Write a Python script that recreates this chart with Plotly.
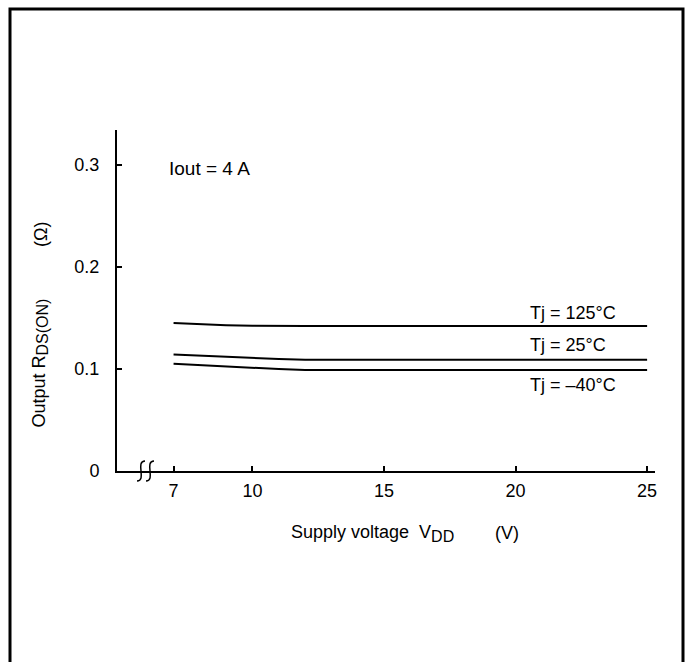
import plotly.graph_objects as go

# Data
vdd = [7, 8, 9, 10, 11, 12, 15, 20, 25]
r_125 = [0.145, 0.1437, 0.1428, 0.1422, 0.142, 0.142, 0.142, 0.142, 0.142]
r_25 = [0.114, 0.1128, 0.1117, 0.1107, 0.1098, 0.109, 0.109, 0.109, 0.109]
r_m40 = [0.105, 0.1036, 0.1022, 0.1009, 0.0998, 0.099, 0.099, 0.099, 0.099]

series = [("Tj = 125°C", r_125), ("Tj = 25°C", r_25), ("Tj = \u201340°C", r_m40)]
label_y = [0.1547, 0.1234, 0.0842]

y_ticks = [0, 0.1, 0.2, 0.3]
y_ticktext = ["0", "0.1", "0.2", "0.3"]
x_ticks = [7, 10, 15, 20, 25]
x_ticktext = ["7", "10", "15", "20", "25"]

FONT = "Liberation Sans, Arial, Helvetica, sans-serif"
FS = 18
SUB = '<sub><span style="font-size:16px">{}</span></sub>'

fig = go.Figure()
for name, vals in series:
    fig.add_trace(go.Scatter(x=vdd, y=vals, mode="lines", name=name,
                             line=dict(color="black", width=2), showlegend=False))

L, R, T, B = 117, 45, 130, 191
W, H = 700, 662
pw, ph = W - L - R, H - T - B

def px2paper_x(px):
    return (px - L) / pw

def px2paper_y(py):
    return (H - B - py) / ph

fig.update_layout(
    width=W, height=H,
    margin=dict(l=L, r=R, t=T, b=B),
    paper_bgcolor="white", plot_bgcolor="white",
    font=dict(family=FONT, size=FS, color="black"),
    xaxis=dict(range=[4.85, 25.3], tickvals=x_ticks, ticktext=x_ticktext,
               showgrid=False, zeroline=False, showline=True, linecolor="black",
               linewidth=2, ticks="inside", ticklen=5, tickwidth=1.5,
               tickcolor="black", tickfont=dict(size=FS), ticklabelstandoff=2),
    yaxis=dict(range=[0, 0.334], tickvals=y_ticks, ticktext=y_ticktext,
               showgrid=False, zeroline=False, showline=True, linecolor="black",
               linewidth=2, ticks="inside", ticklen=5, tickwidth=1.5,
               tickcolor="black", tickfont=dict(size=FS), ticklabelstandoff=12),
)

# Curve labels
for (name, _), ly in zip(series, label_y):
    fig.add_annotation(x=20.48, y=ly, xref="x", yref="y", text=name,
                       showarrow=False, xanchor="left", yanchor="middle",
                       font=dict(size=FS))

fig.add_annotation(x=px2paper_x(167), y=px2paper_y(168), xref="paper", yref="paper",
                   text="Iout = 4 A", showarrow=False, xanchor="left",
                   yanchor="middle", font=dict(size=19))

# Axis titles
fig.add_annotation(x=px2paper_x(289), y=px2paper_y(533), xref="paper", yref="paper",
                   text="Supply voltage\u00a0\u00a0V" + SUB.format("DD"), showarrow=False,
                   xanchor="left", yanchor="middle", font=dict(size=FS))
fig.add_annotation(x=px2paper_x(493), y=px2paper_y(533), xref="paper", yref="paper",
                   text="(V)", showarrow=False, xanchor="left", yanchor="middle",
                   font=dict(size=FS))
fig.add_annotation(x=px2paper_x(40), y=px2paper_y(430), xref="paper", yref="paper",
                   text="Output R" + SUB.format("DS(ON)"), showarrow=False, textangle=-90,
                   xanchor="center", yanchor="bottom", font=dict(size=FS))
fig.add_annotation(x=px2paper_x(41), y=px2paper_y(235), xref="paper", yref="paper",
                   text="(\u03a9)", showarrow=False, textangle=-90,
                   xanchor="center", yanchor="middle", font=dict(size=FS))

# Axis break symbol (two S-shaped strokes crossing the x axis)
axis_py = H - B
for cx in [141, 150]:
    pts = [(cx + 4, axis_py - 10), (cx - 6, axis_py - 10),
           (cx + 6, axis_py + 10), (cx - 4, axis_py + 10)]
    p = [(px2paper_x(a), px2paper_y(b)) for a, b in pts]
    path = (f"M {p[0][0]} {p[0][1]} C {p[1][0]} {p[1][1]}, "
            f"{p[2][0]} {p[2][1]}, {p[3][0]} {p[3][1]}")
    fig.add_shape(type="path", path=path, xref="paper", yref="paper",
                  line=dict(color="black", width=1.5), layer="above")

# Outer frame
fig.add_shape(type="rect", xref="paper", yref="paper",
              x0=px2paper_x(10), x1=px2paper_x(683),
              y0=px2paper_y(690), y1=px2paper_y(9),
              line=dict(color="black", width=3), layer="above")

fig.write_html("out.html")
